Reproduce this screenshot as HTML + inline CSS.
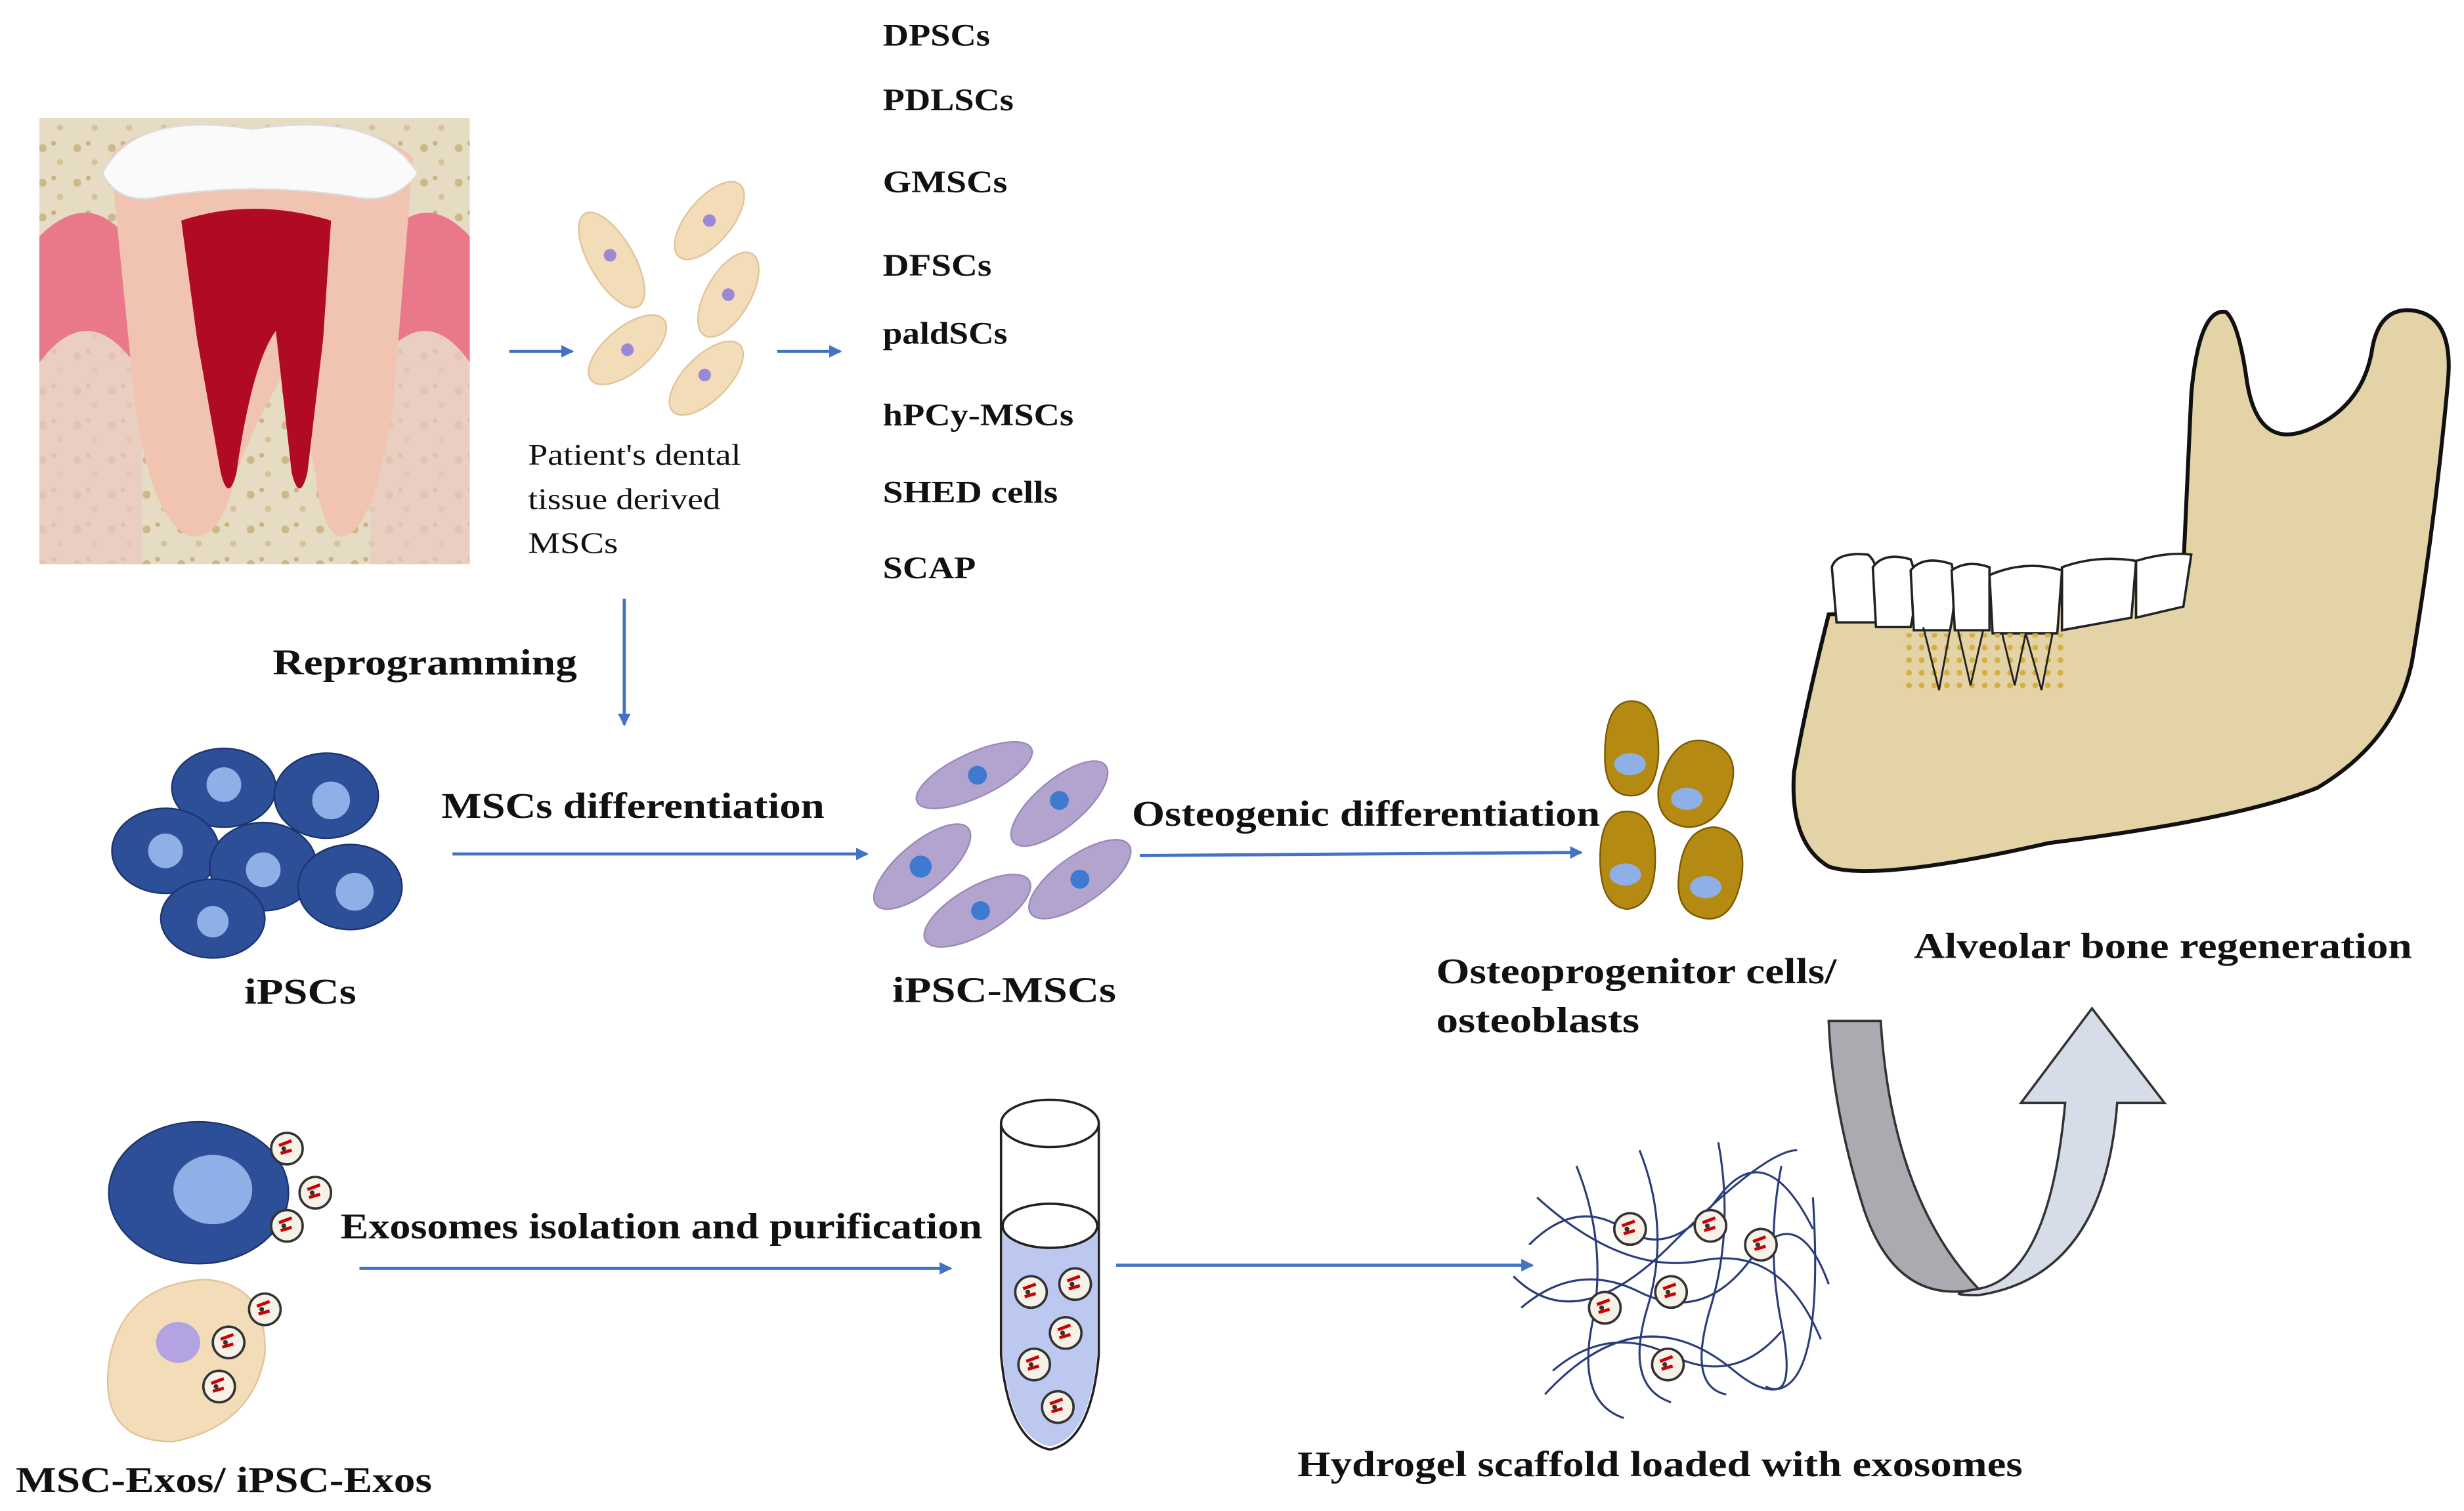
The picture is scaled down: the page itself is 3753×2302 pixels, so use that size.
<!DOCTYPE html>
<html><head><meta charset="utf-8"><style>
html,body{margin:0;padding:0;background:#fff;}
svg{display:block;}
.b{font-family:"Liberation Serif",serif;font-weight:bold;fill:#111;}
.n{font-family:"Liberation Serif",serif;fill:#111;}
</style></head><body>
<svg width="3753" height="2302" viewBox="0 0 1563 959" preserveAspectRatio="none" xmlns="http://www.w3.org/2000/svg">
<defs>
<marker id="ah" markerWidth="8" markerHeight="8" refX="7" refY="4" orient="auto" markerUnits="userSpaceOnUse"><path d="M0,0 L8,4 L0,8 z" fill="#4472c4"/></marker>
<pattern id="dots" width="22" height="22" patternUnits="userSpaceOnUse"><rect width="22" height="22" fill="#e6dcc4"/><circle cx="5" cy="6" r="2.5" fill="#cdb88a"/><circle cx="16" cy="15" r="2" fill="#d6c39a"/><circle cx="12" cy="3" r="1.5" fill="#c9b27e"/></pattern>
<pattern id="ydots" width="8" height="8" patternUnits="userSpaceOnUse"><circle cx="3" cy="3" r="1.8" fill="#d4b040"/></pattern>
<g id="exo"><circle r="10" fill="#f6f2e8" stroke="#333" stroke-width="1.5"/><path d="M-5,-2 l8,-3 M-4,3 l7,-2" stroke="#c00" stroke-width="2"/><circle cx="-2" cy="0" r="1.5" fill="#333"/></g>
</defs>
<rect width="1563" height="959" fill="#fff"/>
<!-- tooth -->
<rect x="25" y="75" width="273" height="283" fill="url(#dots)"/>
<path d="M25,170 Q60,120 90,160 L90,358 L25,358 z" fill="#ecc7c2" opacity="0.7"/>
<path d="M298,170 Q265,120 235,160 L235,358 L298,358 z" fill="#ecc7c2" opacity="0.7"/>
<path d="M25,150 Q55,120 80,150 L85,230 Q55,190 25,230 z" fill="#e8788a"/>
<path d="M298,150 Q270,120 245,150 L240,230 Q270,190 298,230 z" fill="#e8788a"/>
<path d="M70,100 Q90,72 160,85 Q230,72 262,100 L250,250 Q240,330 220,340 Q205,345 200,300 L185,230 Q165,260 150,300 Q140,345 120,340 Q95,330 85,250 z" fill="#f0c4b0"/>
<path d="M65,110 Q85,70 160,82 Q240,70 265,110 Q250,130 225,125 Q160,115 100,125 Q75,130 65,110 z" fill="#fafafa" stroke="#ddd"/>
<path d="M115,140 Q160,125 210,140 L205,215 L195,300 Q190,320 185,300 L175,210 Q160,230 150,300 Q145,320 140,300 L125,215 z" fill="#b00a25"/>
<!-- arrows top -->
<line x1="323" y1="223" x2="363" y2="223" stroke="#4472c4" stroke-width="2" marker-end="url(#ah)"/>
<line x1="493" y1="223" x2="533" y2="223" stroke="#4472c4" stroke-width="2" marker-end="url(#ah)"/>
<!-- beige cells -->
<g fill="#f3dcb8" stroke="#e0c49a">
<ellipse cx="388" cy="165" rx="14" ry="34" transform="rotate(-30 388 165)"/>
<ellipse cx="450" cy="140" rx="14" ry="30" transform="rotate(40 450 140)"/>
<ellipse cx="462" cy="187" rx="14" ry="30" transform="rotate(30 462 187)"/>
<ellipse cx="398" cy="222" rx="14" ry="30" transform="rotate(50 398 222)"/>
<ellipse cx="448" cy="240" rx="14" ry="30" transform="rotate(45 448 240)"/>
</g>
<g fill="#9a88d8"><circle cx="387" cy="162" r="4"/><circle cx="450" cy="140" r="4"/><circle cx="462" cy="187" r="4"/><circle cx="398" cy="222" r="4"/><circle cx="447" cy="238" r="4"/></g>
<g class="b" font-size="20">
<text x="560" y="29" textLength="68" lengthAdjust="spacingAndGlyphs">DPSCs</text>
<text x="560" y="70" textLength="83" lengthAdjust="spacingAndGlyphs">PDLSCs</text>
<text x="560" y="122" textLength="79" lengthAdjust="spacingAndGlyphs">GMSCs</text>
<text x="560" y="175" textLength="69" lengthAdjust="spacingAndGlyphs">DFSCs</text>
<text x="560" y="218" textLength="79" lengthAdjust="spacingAndGlyphs">paldSCs</text>
<text x="560" y="270" textLength="121" lengthAdjust="spacingAndGlyphs">hPCy-MSCs</text>
<text x="560" y="319" textLength="111" lengthAdjust="spacingAndGlyphs">SHED cells</text>
<text x="560" y="367" textLength="59" lengthAdjust="spacingAndGlyphs">SCAP</text>
</g>
<g class="n" font-size="19">
<text x="335" y="295" textLength="135" lengthAdjust="spacingAndGlyphs">Patient's dental</text>
<text x="335" y="323" textLength="122" lengthAdjust="spacingAndGlyphs">tissue derived</text>
<text x="335" y="351" textLength="57" lengthAdjust="spacingAndGlyphs">MSCs</text></g>
<line x1="396" y1="380" x2="396" y2="460" stroke="#4472c4" stroke-width="2" marker-end="url(#ah)"/>
<text class="b" x="173" y="428" font-size="23" textLength="193" lengthAdjust="spacingAndGlyphs">Reprogramming</text>
<!-- iPSCs -->
<g fill="#2c4f97" stroke="#1c3570">
<ellipse cx="142" cy="500" rx="33" ry="25"/><ellipse cx="207" cy="505" rx="33" ry="27"/><ellipse cx="105" cy="540" rx="34" ry="27"/><ellipse cx="167" cy="550" rx="34" ry="28"/><ellipse cx="222" cy="563" rx="33" ry="27"/><ellipse cx="135" cy="583" rx="33" ry="25"/>
</g>
<g fill="#8fb0e6"><circle cx="142" cy="498" r="11"/><circle cx="210" cy="508" r="12"/><circle cx="105" cy="540" r="11"/><circle cx="167" cy="552" r="11"/><circle cx="225" cy="566" r="12"/><circle cx="135" cy="585" r="10"/></g>
<text class="b" x="155" y="637" font-size="23" textLength="71" lengthAdjust="spacingAndGlyphs">iPSCs</text>
<text class="b" x="280" y="519" font-size="23" textLength="243" lengthAdjust="spacingAndGlyphs">MSCs differentiation</text>
<line x1="287" y1="542" x2="550" y2="542" stroke="#4472c4" stroke-width="2" marker-end="url(#ah)"/>
<!-- iPSC-MSCs -->
<g fill="#b3a3cf" stroke="#9a89bb">
<ellipse cx="618" cy="492" rx="40" ry="14" transform="rotate(-25 618 492)"/>
<ellipse cx="672" cy="510" rx="38" ry="15" transform="rotate(-40 672 510)"/>
<ellipse cx="585" cy="550" rx="38" ry="15" transform="rotate(-40 585 550)"/>
<ellipse cx="685" cy="558" rx="38" ry="15" transform="rotate(-35 685 558)"/>
<ellipse cx="620" cy="578" rx="38" ry="15" transform="rotate(-30 620 578)"/>
</g>
<g fill="#3d7ad0"><circle cx="620" cy="492" r="6"/><circle cx="672" cy="508" r="6"/><circle cx="584" cy="550" r="7"/><circle cx="685" cy="558" r="6"/><circle cx="622" cy="578" r="6"/></g>
<text class="b" x="566" y="636" font-size="23" textLength="142" lengthAdjust="spacingAndGlyphs">iPSC-MSCs</text>
<text class="b" x="718" y="524" font-size="23" textLength="297" lengthAdjust="spacingAndGlyphs">Osteogenic differentiation</text>
<line x1="723" y1="543" x2="1003" y2="541" stroke="#4472c4" stroke-width="2" marker-end="url(#ah)"/>
<!-- osteoblasts -->
<g fill="#b58a12" stroke="#7a5a05">
<path d="M1018,480 Q1018,445 1035,445 Q1053,445 1052,480 Q1050,505 1035,505 Q1018,505 1018,480z"/>
<path d="M1052,500 Q1060,468 1080,470 Q1105,475 1098,500 Q1090,525 1070,525 Q1050,522 1052,500z"/>
<path d="M1015,545 Q1015,515 1032,515 Q1050,515 1050,545 Q1050,575 1032,577 Q1015,575 1015,545z"/>
<path d="M1065,555 Q1068,525 1088,525 Q1108,528 1105,555 Q1100,585 1082,583 Q1062,580 1065,555z"/>
</g>
<g fill="#8fb0e6"><ellipse cx="1034" cy="485" rx="10" ry="7"/><ellipse cx="1070" cy="507" rx="10" ry="7"/><ellipse cx="1031" cy="555" rx="10" ry="7"/><ellipse cx="1082" cy="563" rx="10" ry="7"/></g>
<text class="b" x="911" y="624" font-size="23" textLength="254" lengthAdjust="spacingAndGlyphs">Osteoprogenitor cells/</text>
<text class="b" x="911" y="655" font-size="23" textLength="129" lengthAdjust="spacingAndGlyphs">osteoblasts</text>
<!-- jaw -->
<path d="M1385,360 L1390,250 Q1395,195 1412,198 Q1420,205 1425,240 Q1432,290 1470,270 Q1500,255 1505,220 Q1510,195 1530,197 Q1556,200 1553,240 Q1545,330 1530,420 Q1520,470 1470,500 Q1420,520 1300,535 Q1190,560 1160,550 Q1135,535 1138,490 Q1145,450 1160,390 Q1260,385 1385,360z" fill="#e3d3a6" stroke="#111" stroke-width="2.5"/>
<g fill="#fff" stroke="#222" stroke-width="1.5">
<path d="M1162,360 Q1165,350 1185,352 Q1195,360 1190,395 L1165,395z"/>
<path d="M1188,360 Q1195,350 1212,355 Q1218,370 1212,398 L1190,398z"/>
<path d="M1212,362 Q1220,352 1238,358 Q1242,375 1237,400 L1214,400z"/>
<path d="M1238,362 Q1248,355 1262,360 L1262,400 L1240,400z"/>
<path d="M1262,365 Q1285,355 1308,362 L1305,402 L1264,402z"/>
<path d="M1308,360 Q1330,352 1355,356 L1352,392 L1308,400z"/>
<path d="M1355,356 Q1375,350 1390,352 L1385,385 L1355,392z"/>
</g>
<rect x="1205" y="402" width="105" height="38" fill="url(#ydots)"/>
<g stroke="#222" fill="none" stroke-width="1.2"><path d="M1220,398 L1230,438 L1237,400"/><path d="M1242,400 L1250,435 L1258,400"/><path d="M1270,402 L1278,435 L1285,402 L1295,438 L1302,402"/></g>
<text class="b" x="1214" y="608" font-size="23" textLength="316" lengthAdjust="spacingAndGlyphs">Alveolar bone regeneration</text>
<!-- curved arrow -->
<path d="M1160,648 L1193,648 Q1200,760 1255,818 Q1200,830 1180,760 Q1162,700 1160,648z" fill="#a9abb0" stroke="#333" stroke-width="1.5"/>
<path d="M1255,818 Q1300,810 1310,700 L1282,700 L1327,640 L1373,700 L1343,700 Q1335,810 1255,822 Q1230,822 1255,818z" fill="#d7dde8" stroke="#333" stroke-width="1.5"/>
<!-- exosome cells -->
<ellipse cx="126" cy="757" rx="57" ry="45" fill="#2c4f97" stroke="#1c3570"/>
<ellipse cx="135" cy="755" rx="25" ry="22" fill="#8fb0e6"/>
<path d="M70,860 Q80,815 130,812 Q170,815 168,860 Q160,905 110,915 Q60,915 70,860z" fill="#f3dcb8" stroke="#e0c49a"/>
<ellipse cx="113" cy="852" rx="14" ry="13" fill="#b3a3e0"/>
<use href="#exo" x="182" y="729"/><use href="#exo" x="200" y="757"/><use href="#exo" x="182" y="778"/><use href="#exo" x="168" y="831"/><use href="#exo" x="145" y="852"/><use href="#exo" x="139" y="880"/>
<text class="b" x="10" y="947" font-size="23" textLength="264" lengthAdjust="spacingAndGlyphs">MSC-Exos/ iPSC-Exos</text>
<text class="b" x="216" y="786" font-size="23" textLength="407" lengthAdjust="spacingAndGlyphs">Exosomes isolation and purification</text>
<line x1="228" y1="805" x2="603" y2="805" stroke="#4472c4" stroke-width="2" marker-end="url(#ah)"/>
<!-- tube -->
<path d="M635,713 L635,860 Q640,915 666,920 Q692,915 697,860 L697,713" fill="#fff" stroke="#222" stroke-width="1.5"/>
<path d="M636,778 L636,860 Q641,913 666,918 Q691,913 696,860 L696,778z" fill="#bcc8ef"/>
<ellipse cx="666" cy="713" rx="31" ry="15" fill="#fff" stroke="#222" stroke-width="1.5"/>
<ellipse cx="666" cy="778" rx="30" ry="14" fill="#fff" stroke="#222" stroke-width="1.5"/>
<use href="#exo" x="654" y="820"/><use href="#exo" x="682" y="815"/><use href="#exo" x="676" y="846"/><use href="#exo" x="656" y="866"/><use href="#exo" x="671" y="893"/>
<line x1="708" y1="803" x2="972" y2="803" stroke="#4472c4" stroke-width="2" marker-end="url(#ah)"/>
<!-- hydrogel -->
<g stroke="#2a3d7a" stroke-width="1.3" fill="none">
<path d="M970,790 Q1000,760 1030,780 T1090,760 T1150,780"/>
<path d="M965,830 Q1000,800 1040,820 T1110,800 T1160,815"/>
<path d="M985,870 Q1020,840 1060,860 T1130,845"/>
<path d="M1000,740 Q1020,790 1010,840 T1030,900"/>
<path d="M1040,730 Q1060,780 1045,830 T1060,890"/>
<path d="M1090,725 Q1100,780 1085,830 T1095,885"/>
<path d="M1130,740 Q1120,790 1130,840 T1120,880"/>
<path d="M975,760 Q1030,810 1080,800 T1155,850"/>
<path d="M980,885 Q1040,820 1100,870 T1150,760"/>
<path d="M960,810 Q1000,850 1060,790 T1140,730"/>
</g>
<use href="#exo" x="1034" y="780"/><use href="#exo" x="1085" y="778"/><use href="#exo" x="1117" y="790"/><use href="#exo" x="1018" y="830"/><use href="#exo" x="1060" y="820"/><use href="#exo" x="1058" y="866"/>
<text class="b" x="823" y="937" font-size="23" textLength="460" lengthAdjust="spacingAndGlyphs">Hydrogel scaffold loaded with exosomes</text>
</svg>
</body></html>
